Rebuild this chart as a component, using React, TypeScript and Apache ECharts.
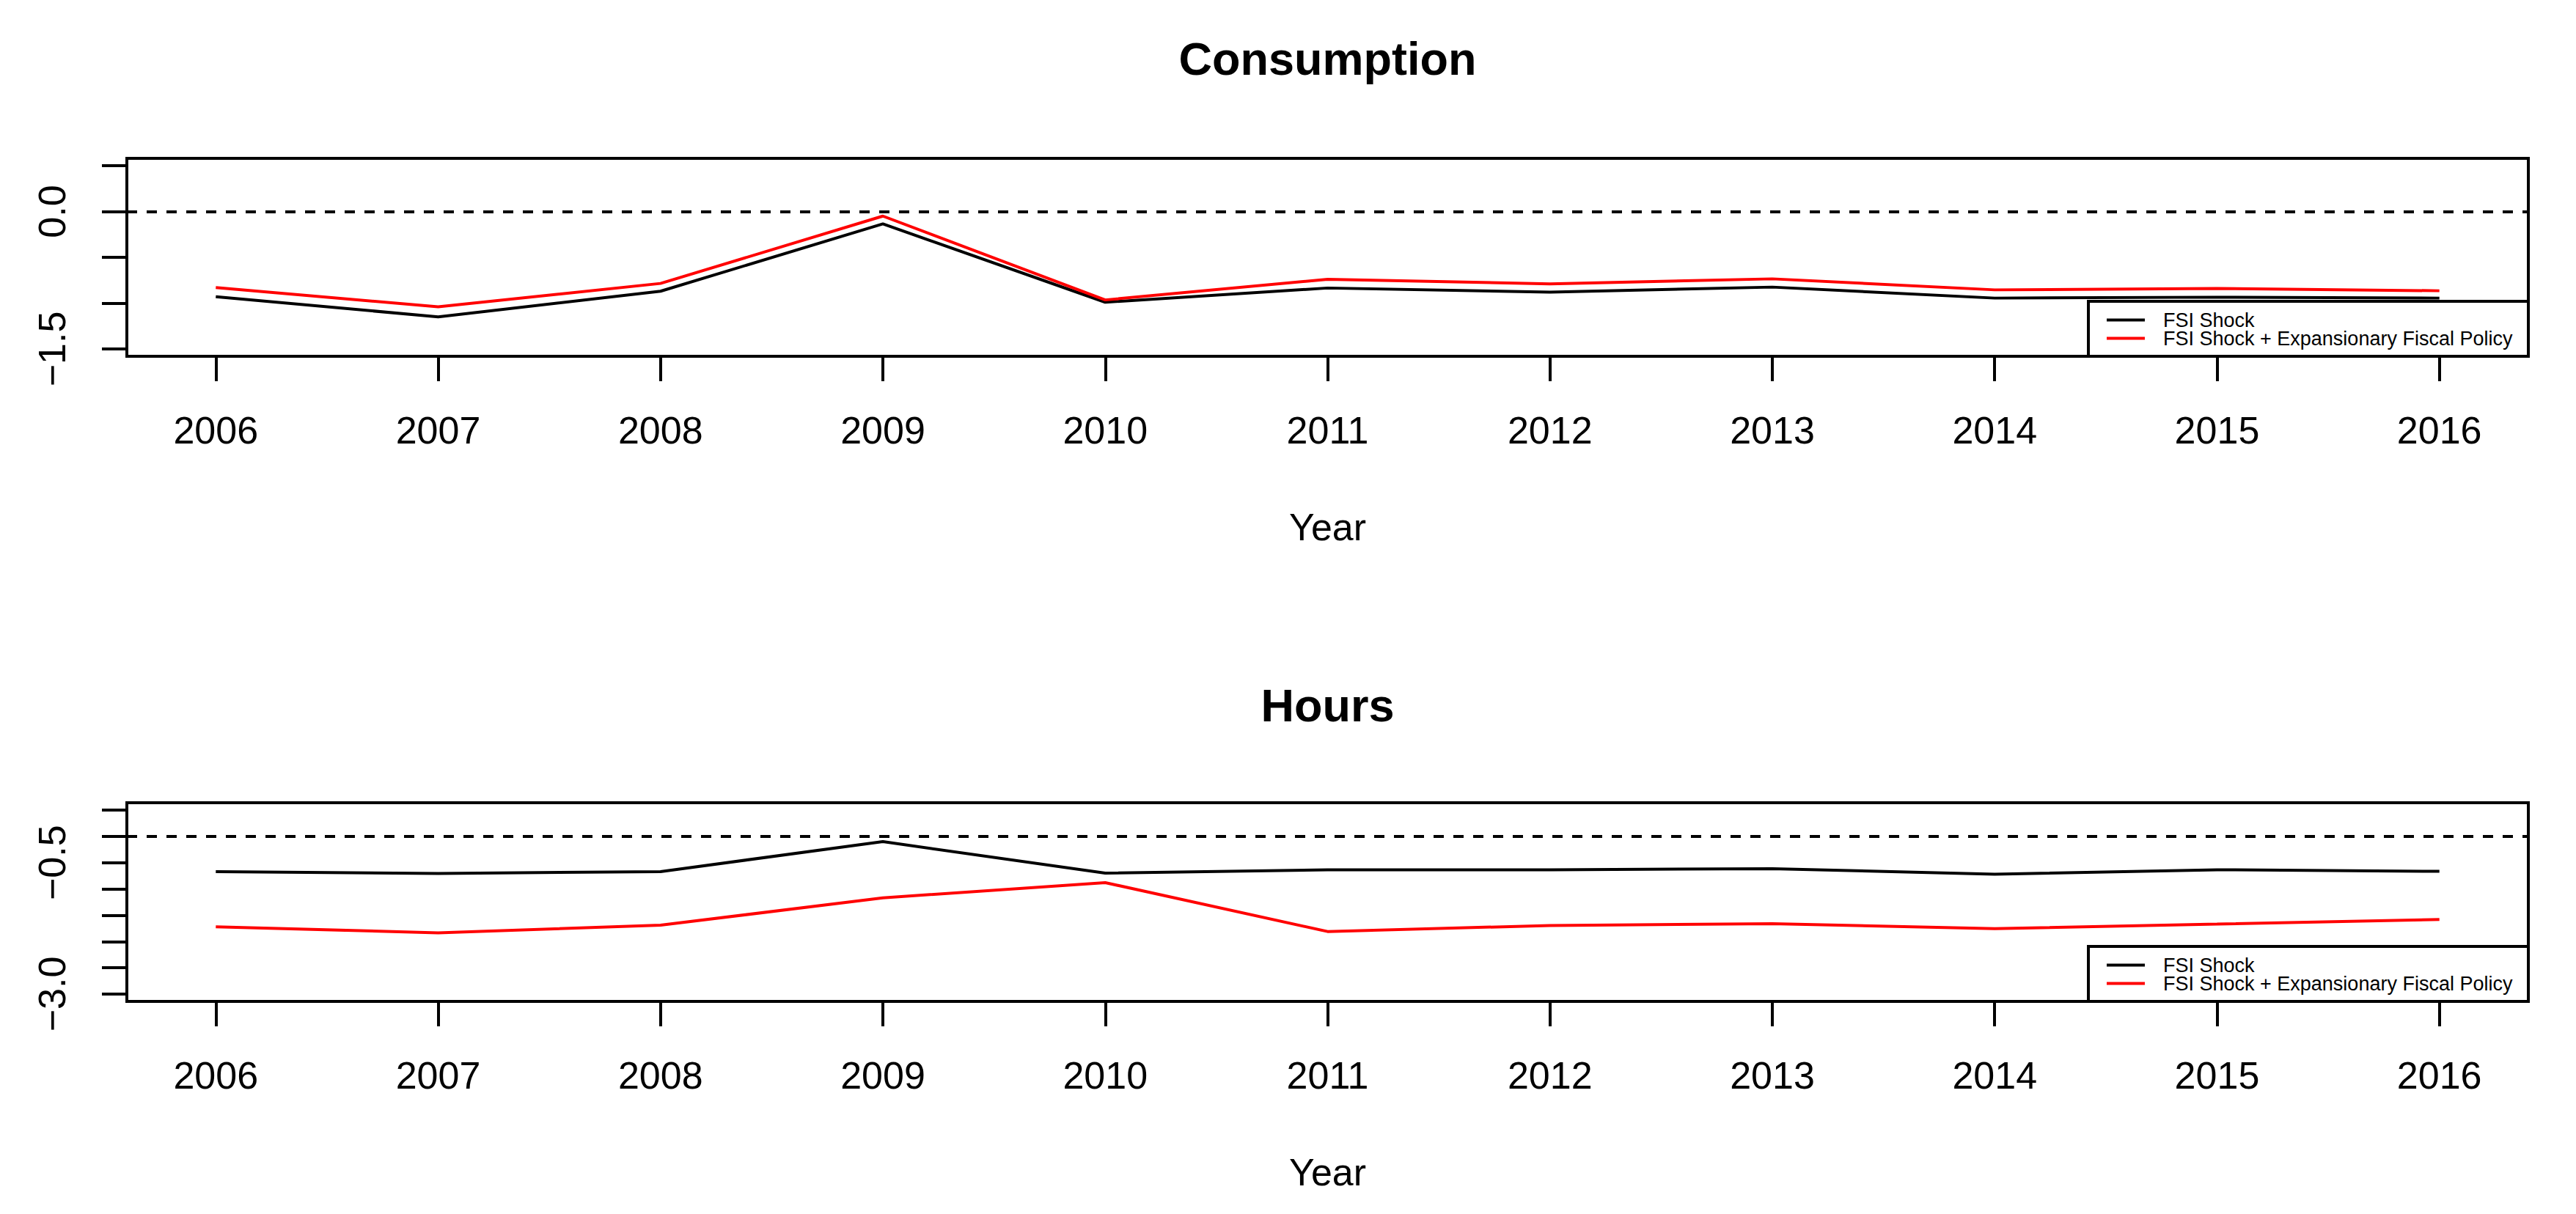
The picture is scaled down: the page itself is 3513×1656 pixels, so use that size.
import React, { useEffect, useRef } from "react";
import * as echarts from "echarts";

const years = [2006, 2007, 2008, 2009, 2010, 2011, 2012, 2013, 2014, 2015, 2016];
const consFSI = [-0.93, -1.15, -0.87, -0.135, -0.99, -0.835, -0.88, -0.825, -0.945, -0.935, -0.945];
const consFiscal = [-0.83, -1.04, -0.785, -0.05, -0.965, -0.74, -0.79, -0.735, -0.855, -0.84, -0.865];
const hoursFSI = [-0.67, -0.705, -0.67, -0.1, -0.7, -0.635, -0.635, -0.615, -0.72, -0.635, -0.665];
const hoursFiscal = [-1.72, -1.835, -1.69, -1.17, -0.88, -1.81, -1.695, -1.66, -1.755, -1.67, -1.58];

const consTicks = [0.5, 0, -0.5, -1, -1.5];
const consLabels = [0, -1.5];
const hoursTicks = [0.5, 0, -0.5, -1, -1.5, -2, -2.5, -3];
const hoursLabels = [-0.5, -3];

const seriesNames = ["FSI Shock", "FSI Shock + Expansionary Fiscal Policy"];
const titles = ["Consumption", "Hours"];
const xTitle = "Year";

const FONT = "'Liberation Sans', Arial, Helvetica, sans-serif";

const fmtY = (v: number) => (v < 0 ? "\u2212" : "") + Math.abs(v).toFixed(1);

export default function App() {
  const ref = useRef<HTMLDivElement>(null);
  useEffect(() => {
    if (!ref.current) return;
    const chart = echarts.init(ref.current, null, { renderer: "svg" });
    const W = 3513;
    const gridLeft = 173;
    const gridRight = 3513 - 3448;
    const grids = [
      { top: 216, height: 270 },
      { top: 1095, height: 271 },
    ];
    const yRanges = [
      { min: -1.58, max: 0.58, ticks: consTicks, labels: consLabels },
      { min: -3.14, max: 0.64, ticks: hoursTicks, labels: hoursLabels },
    ];
    const pair = (arr: number[]) => years.map((y, i) => [y, arr[i]]);
    const panelData = [
      [consFSI, consFiscal],
      [hoursFSI, hoursFiscal],
    ];
    const colors = ["#000000", "#ff0000"];

    const series: any[] = [];
    panelData.forEach((pd, p) => {
      pd.forEach((arr, s) => {
        series.push({
          type: "line",
          name: seriesNames[s],
          xAxisIndex: p,
          yAxisIndex: p,
          data: pair(arr),
          symbol: "none",
          lineStyle: { color: colors[s], width: 4 },
          itemStyle: { color: colors[s] },
          z: 3,
          markLine:
            s === 0
              ? {
                  silent: true,
                  symbol: ["none", "none"],
                  label: { show: false },
                  lineStyle: { color: "#000", width: 4, type: [14, 13] },
                  data: [{ yAxis: 0 }],
                }
              : undefined,
        });
      });
    });

    const graphics: any[] = [];
    const centerX = gridLeft + (W - gridLeft - gridRight) / 2;
    const titleY = [80, 962];
    grids.forEach((g, p) => {
      graphics.push({
        type: "text",
        x: centerX,
        y: titleY[p],
        style: {
          text: titles[p],
          font: `bold 63px ${FONT}`,
          fill: "#000",
          textAlign: "center",
          textVerticalAlign: "middle",
        },
        z: 100,
      });
      const bottom = g.top + g.height;
      graphics.push({
        type: "text",
        x: centerX,
        y: bottom + 233,
        style: {
          text: xTitle,
          font: `52px ${FONT}`,
          fill: "#000",
          textAlign: "center",
          textVerticalAlign: "middle",
        },
        z: 100,
      });
      // legend
      const lx = 2848;
      const ly = bottom - 75;
      graphics.push({
        type: "rect",
        shape: { x: lx, y: ly, width: 3448 - lx, height: 75 },
        style: { fill: "#fff", stroke: "#000", lineWidth: 4 },
        z: 100,
      });
      seriesNames.forEach((nm, i) => {
        const yy = ly + 25.5 + i * 25;
        graphics.push({
          type: "line",
          shape: { x1: lx + 25, y1: yy, x2: lx + 77, y2: yy },
          style: { stroke: colors[i], lineWidth: 4 },
          z: 101,
        });
        graphics.push({
          type: "text",
          x: lx + 102,
          y: yy,
          style: {
            text: nm,
            font: `27px ${FONT}`,
            fill: "#000",
            textAlign: "left",
            textVerticalAlign: "middle",
          },
          z: 101,
        });
      });
    });

    chart.setOption({
      animation: false,
      backgroundColor: "#ffffff",
      grid: grids.map((g) => ({
        left: gridLeft,
        right: gridRight,
        top: g.top,
        height: g.height,
        show: true,
        borderColor: "#000",
        borderWidth: 4,
        backgroundColor: "transparent",
        containLabel: false,
      })),
      xAxis: grids.map((_, p) => ({
        type: "value",
        gridIndex: p,
        position: "bottom",
        min: 2005.6,
        max: 2016.4,
        axisLine: { show: false, onZero: false },
        splitLine: { show: false },
        axisTick: {
          show: true,
          customValues: years,
          length: 34,
          lineStyle: { color: "#000", width: 4 },
        },
        axisLabel: {
          show: true,
          customValues: years,
          formatter: (v: number) => String(v),
          fontSize: 52,
          fontFamily: FONT,
          color: "#000",
          margin: 75,
        },
      })),
      yAxis: yRanges.map((r, p) => ({
        type: "value",
        gridIndex: p,
        position: "left",
        min: r.min,
        max: r.max,
        axisLine: { show: false, onZero: false },
        splitLine: { show: false },
        axisTick: {
          show: true,
          customValues: r.ticks,
          length: 34,
          lineStyle: { color: "#000", width: 4 },
        },
        axisLabel: {
          show: true,
          customValues: r.labels,
          formatter: fmtY,
          rotate: 90,
          fontSize: 52,
          fontFamily: FONT,
          color: "#000",
          margin: 76,
        },
      })),
      series,
      graphic: graphics,
    });
    return () => chart.dispose();
  }, []);
  return (
    <div
      ref={ref}
      style={{ position: "fixed", left: 0, top: 0, width: 3513, height: 1656, background: "#fff" }}
    />
  );
}
